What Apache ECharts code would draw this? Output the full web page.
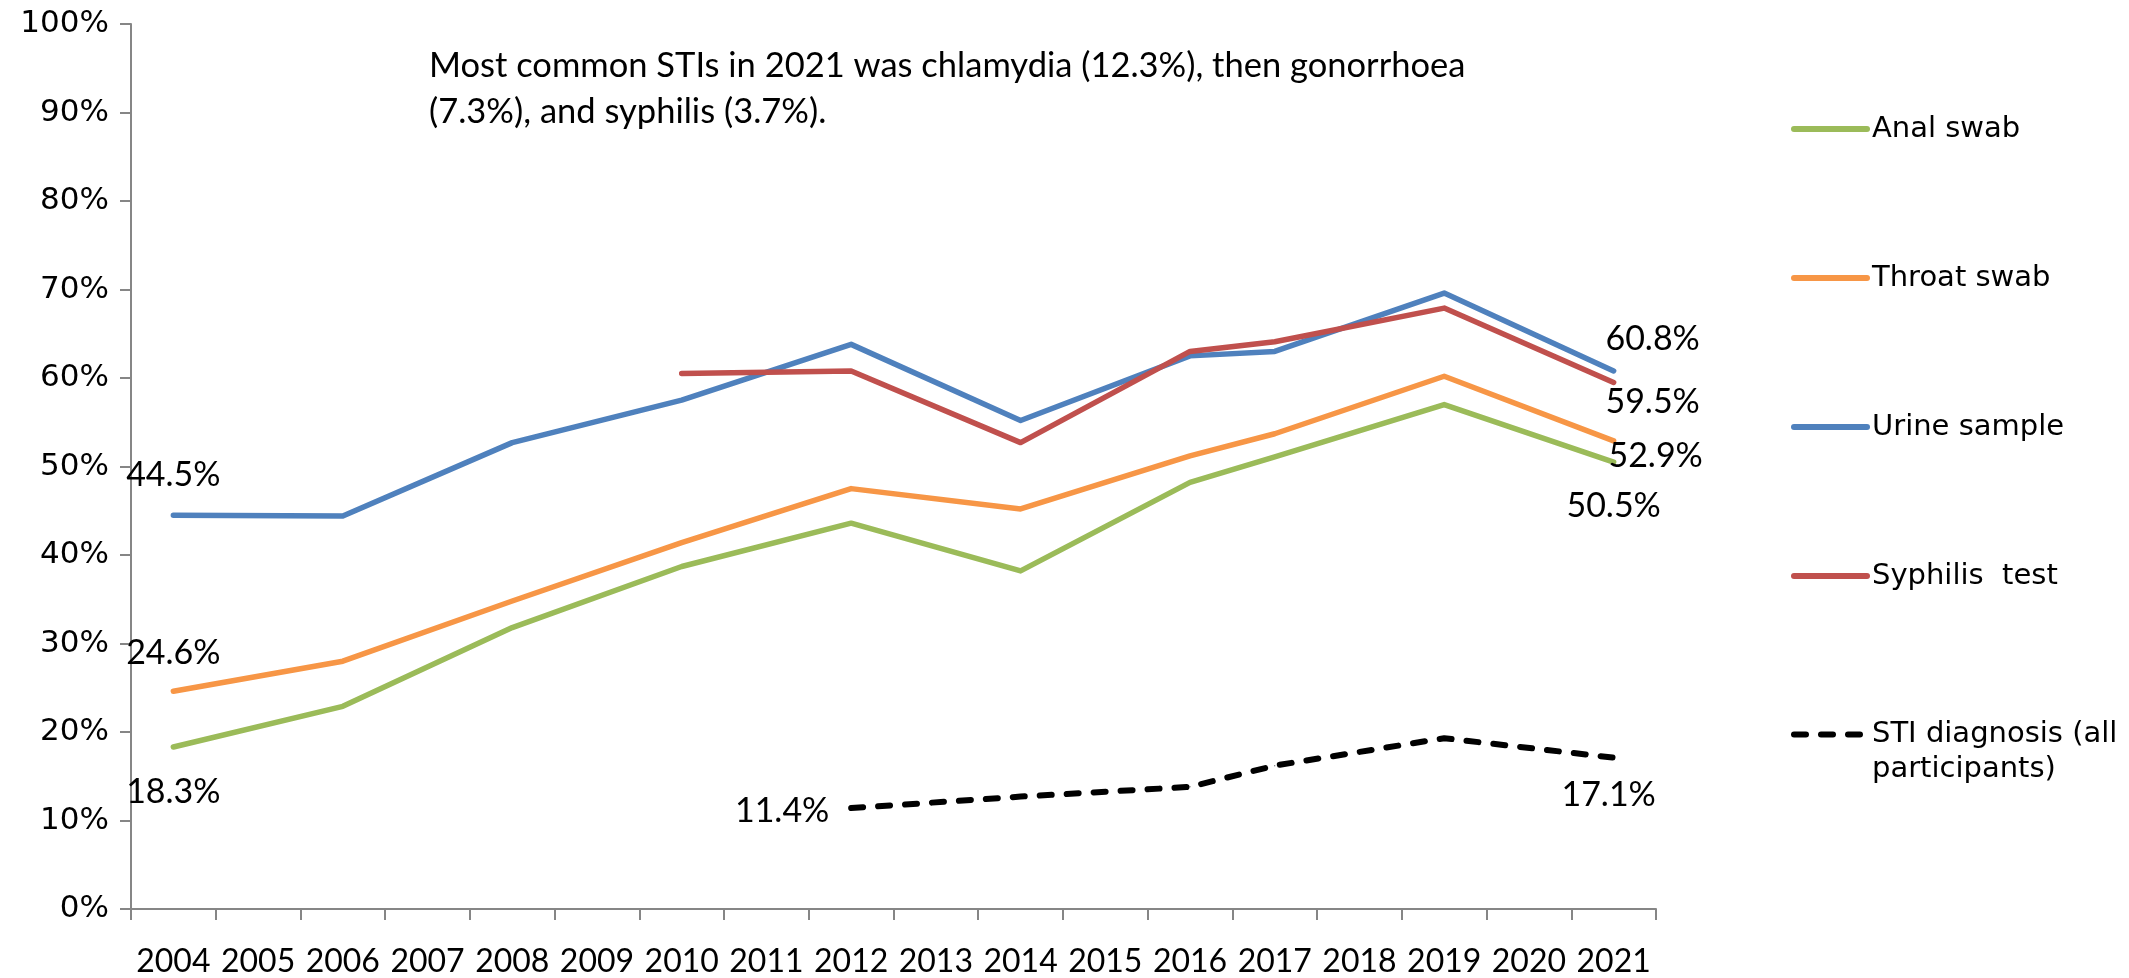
<!DOCTYPE html>
<html>
<head>
<meta charset="utf-8">
<script src="https://cdn.jsdelivr.net/npm/echarts@6/dist/echarts.min.js"></script>
<style>
  html, body { margin: 0; padding: 0; background: #fff; }
  #chart { width: 2129px; height: 978px; }
</style>
</head>
<body>
<div id="chart"></div>
<script>
// categories
var years = ['2004', '2005', '2006', '2007', '2008', '2009', '2010', '2011', '2012',
             '2013', '2014', '2015', '2016', '2017', '2018', '2019', '2020', '2021'];

// series values (%), null = no survey that year
var analSwab     = [18.3, null, 22.9, null, 31.8, null, 38.7, null, 43.6, null, 38.2, null, 48.2, 51.1, null, 57.0, null, 50.5];
var throatSwab   = [24.6, null, 28.0, null, 34.8, null, 41.4, null, 47.5, null, 45.2, null, 51.2, 53.7, null, 60.2, null, 52.9];
var urineSample  = [44.5, null, 44.4, null, 52.7, null, 57.5, null, 63.8, null, 55.2, null, 62.5, 63.0, null, 69.6, null, 60.8];
var syphilisTest = [null, null, null, null, null, null, 60.5, null, 60.8, null, 52.7, null, 63.0, 64.1, null, 67.9, null, 59.5];
var stiDiagnosis = [null, null, null, null, null, null, null, null, 11.4, null, 12.7, null, 13.8, 16.2, null, 19.3, null, 17.1];

var note = 'Most common STIs in 2021 was chlamydia (12.3%), then gonorrhoea\n(7.3%), and syphilis (3.7%).';

// where the data labels sit (index -> offset from the point)
var labelSpots = {
  anal:     { 0: [0, 45], 17: [0, 44] },
  throat:   { 0: [0, -38], 17: [42, 15] },
  urine:    { 0: [0, -40], 17: [39, -32] },
  syphilis: { 17: [39, 20] },
  sti:      { 8: [-69, 3], 17: [-5, 37] }
};

function withLabels(values, spots) {
  var out = [];
  for (var i = 0; i < values.length; i++) {
    if (spots[i] && values[i] != null) {
      out.push({ value: values[i], label: { show: true, position: 'inside', offset: spots[i] } });
    } else {
      out.push(values[i]);
    }
  }
  return out;
}

function lineSeries(name, values, spots, color, dashed) {
  return {
    name: name,
    type: 'line',
    data: withLabels(values, spots),
    connectNulls: true,
    symbol: 'circle',
    symbolSize: 1,
    showSymbol: true,
    showAllSymbol: true,
    itemStyle: { color: color },
    lineStyle: {
      color: color,
      width: dashed ? 6 : 5.5,
      type: dashed ? [12, 15] : 'solid',
      cap: 'round',
      join: 'round'
    },
    label: {
      show: false,
      color: '#000',
      fontFamily: 'Lato',
      fontSize: 34,
      formatter: function (p) { return p.value.toFixed(1) + '%'; }
    },
    emphasis: { disabled: true }
  };
}

// common legend look
function legendBox(top, names) {
  return {
    orient: 'vertical',
    left: 1786,
    top: top,
    itemWidth: 73,
    itemHeight: 40,
    itemGap: 109,
    itemStyle: { opacity: 0 },
    lineStyle: { width: 6, cap: 'round' },
    textStyle: { fontFamily: 'DejaVu Sans', fontSize: 29, color: '#000', lineHeight: 40 },
    data: names
  };
}

var stiName = 'STI diagnosis (all participants)';
var legendTop = legendBox(104, ['Anal swab', 'Throat swab', 'Urine sample', 'Syphilis  test']);
var legendSti = legendBox(677, [stiName]);
legendSti.textStyle.lineHeight = 35;
// blank first line keeps "STI diagnosis (all" level with its icon
legendSti.formatter = function () { return '\nSTI diagnosis (all\nparticipants)'; };

var myChart = echarts.init(document.getElementById('chart'));

var option = {
  animation: false,
  backgroundColor: '#fff',
  title: {
    text: note,
    left: 424,
    top: 38,
    textStyle: {
      fontFamily: 'Lato',
      fontWeight: 'normal',
      fontSize: 34.5,
      lineHeight: 46,
      color: '#000'
    }
  },
  grid: { left: 131, right: 473, top: 24, bottom: 66 },
  legend: [legendTop, legendSti],
  xAxis: {
    type: 'category',
    data: years,
    boundaryGap: true,
    axisLine: { lineStyle: { color: '#868686', width: 2 } },
    axisTick: { show: true, length: 11, interval: 0, lineStyle: { color: '#868686', width: 2 } },
    axisLabel: { interval: 0, margin: 37, color: '#000', fontFamily: 'Lato', fontSize: 32 },
    splitLine: { show: false }
  },
  yAxis: {
    type: 'value',
    min: 0,
    max: 100,
    interval: 10,
    axisLine: { show: true, lineStyle: { color: '#868686', width: 2 } },
    axisTick: { show: true, length: 11, lineStyle: { color: '#868686', width: 2 } },
    axisLabel: { margin: 22, color: '#000', fontFamily: 'DejaVu Sans', fontSize: 31, formatter: '{value}%' },
    splitLine: { show: false }
  },
  series: [
    lineSeries('Anal swab', analSwab, labelSpots.anal, '#9BBB59', false),
    lineSeries('Throat swab', throatSwab, labelSpots.throat, '#F79646', false),
    lineSeries('Urine sample', urineSample, labelSpots.urine, '#4F81BD', false),
    lineSeries('Syphilis  test', syphilisTest, labelSpots.syphilis, '#C0504D', false),
    lineSeries(stiName, stiDiagnosis, labelSpots.sti, '#000000', true)
  ]
};

myChart.setOption(option);
</script>
</body>
</html>
